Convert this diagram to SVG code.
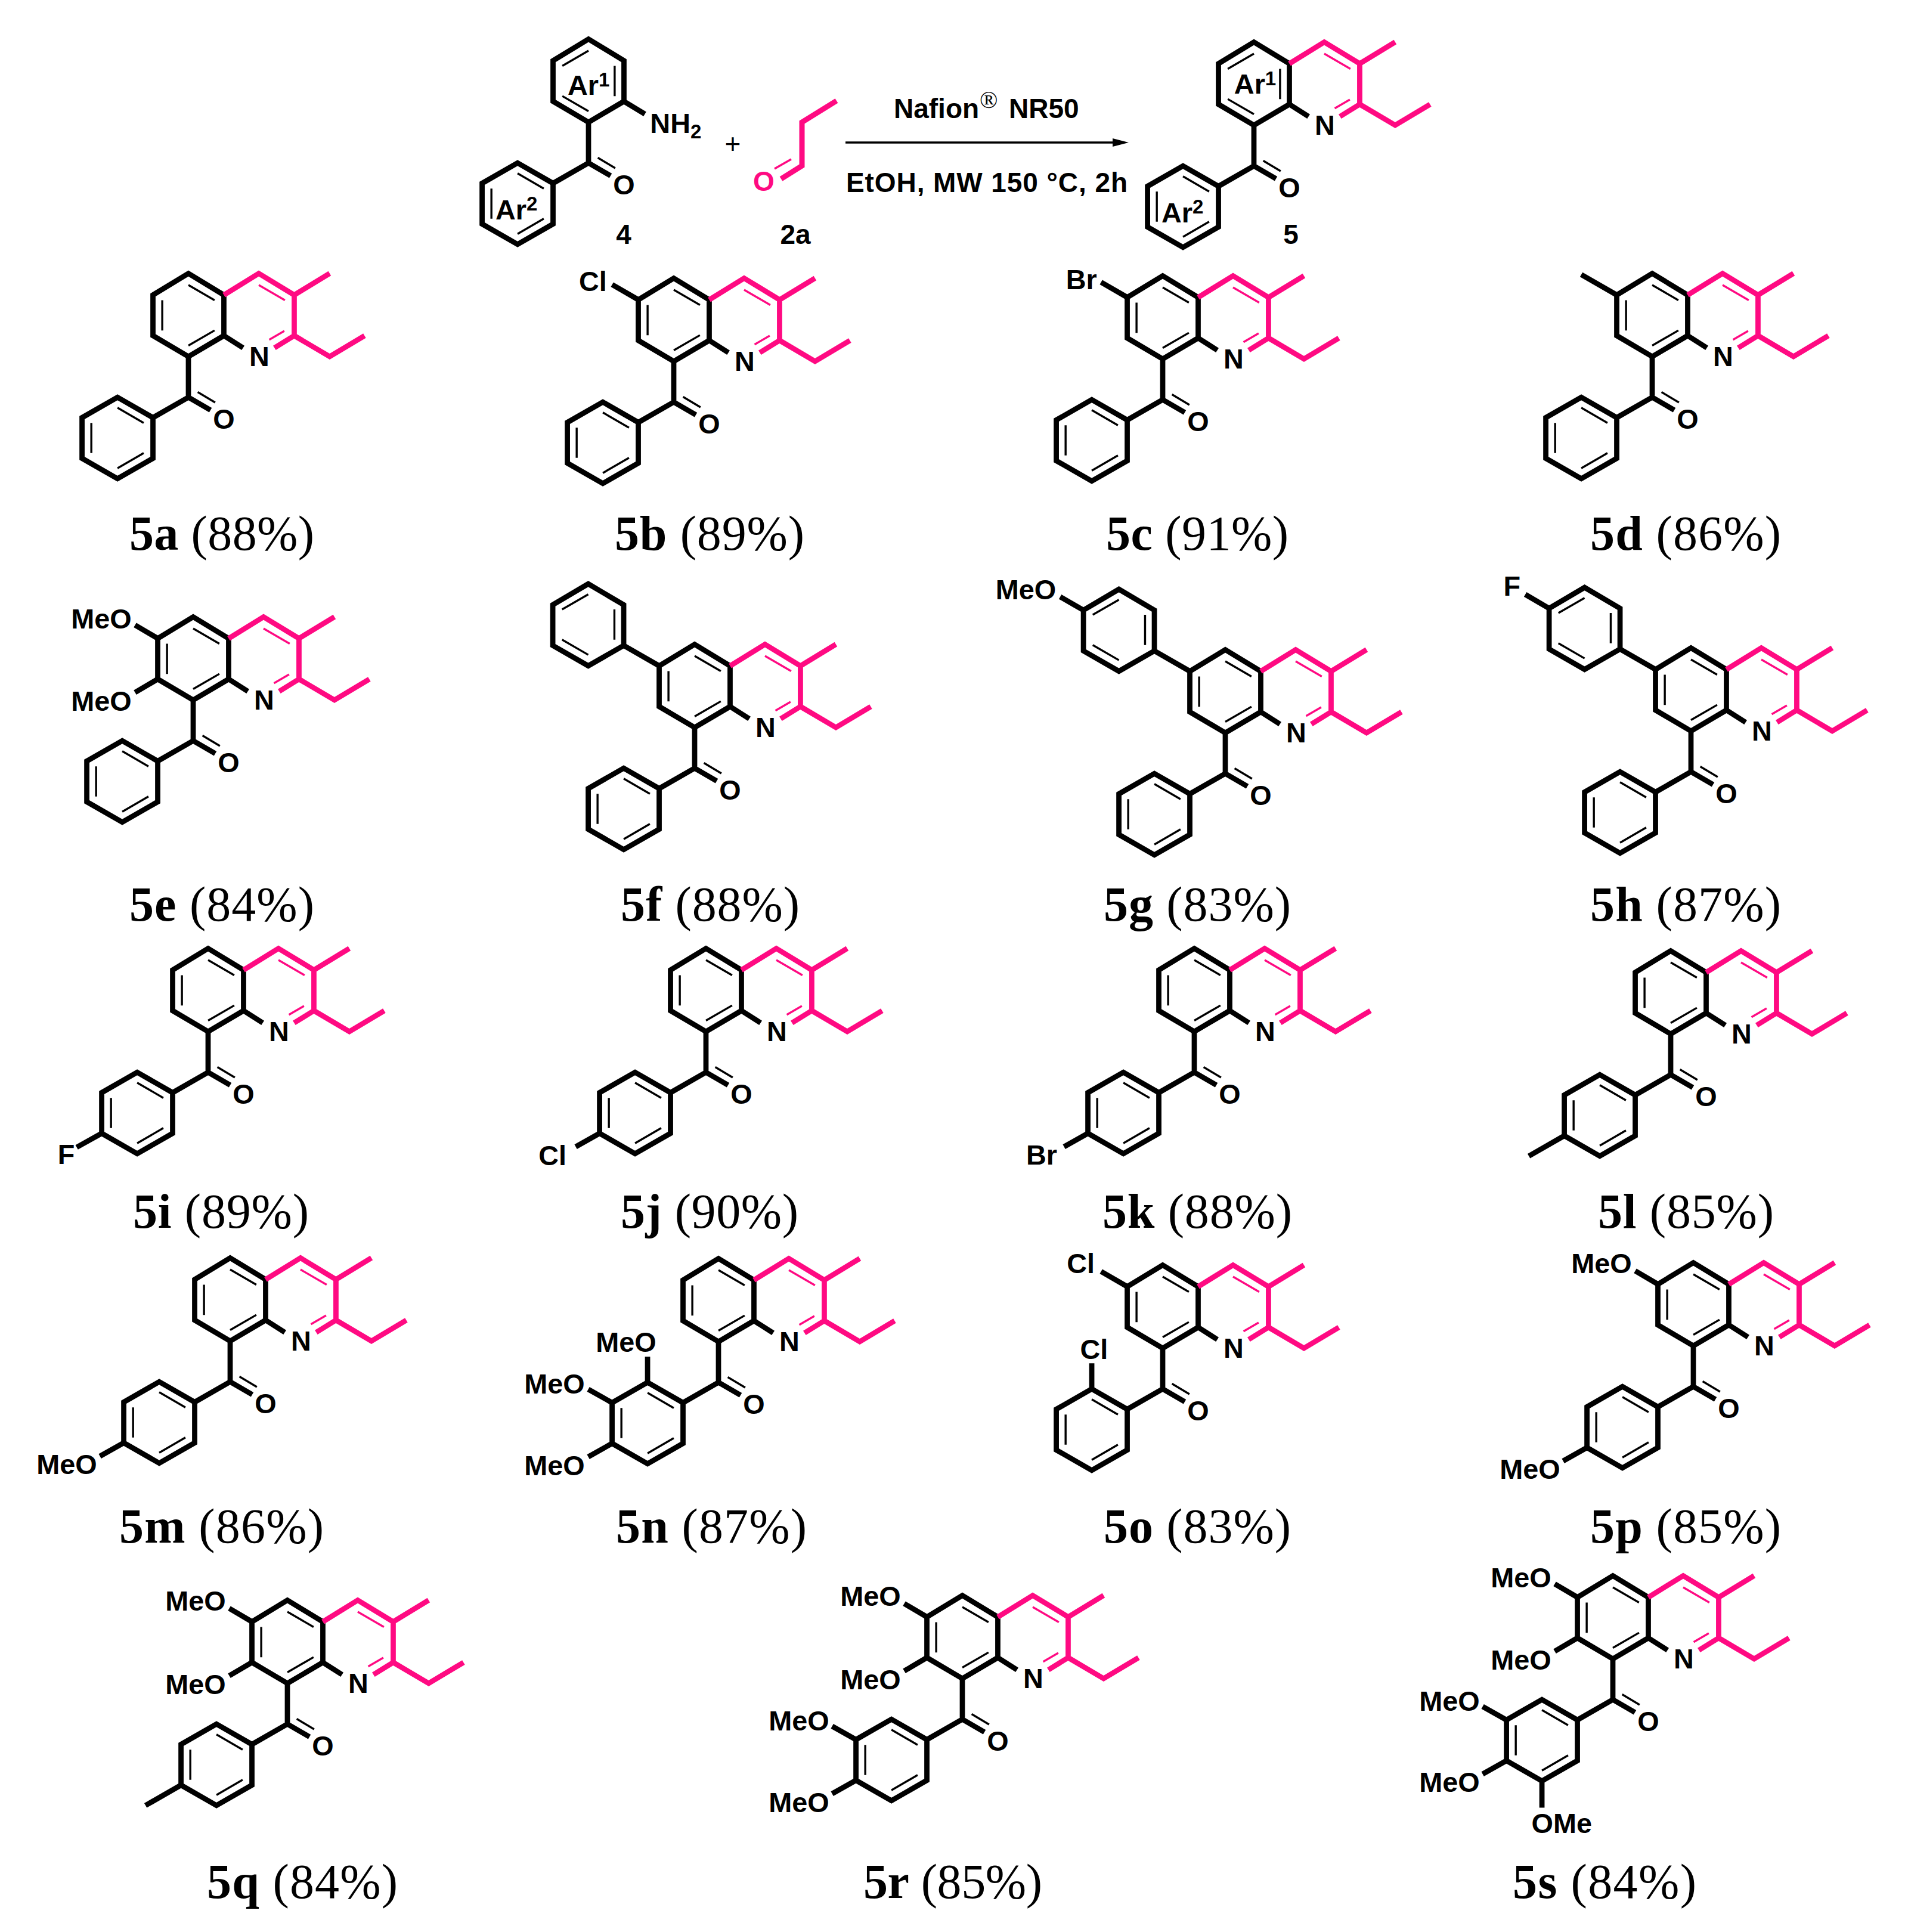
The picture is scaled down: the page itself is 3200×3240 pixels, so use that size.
<svg xmlns="http://www.w3.org/2000/svg" width="3200" height="3240" viewBox="0 0 3200 3240">
<style>
.b{fill:none;stroke:#000;stroke-width:9;stroke-linejoin:miter;stroke-miterlimit:6}
.p{fill:none;stroke:#ff0a82;stroke-width:9;stroke-linejoin:miter;stroke-miterlimit:6}
.t{fill:none;stroke:#000;stroke-width:3.5}
.u{fill:none;stroke:#ff0a82;stroke-width:3.5}
text{font-family:"Liberation Sans",Arial,sans-serif;font-weight:bold;font-size:46px;fill:#000}
.n text{font-size:48px}
.m{text-anchor:middle}
.e{text-anchor:end}
.n text tspan.s,.s{font-size:34px}
.c{font-family:"Liberation Serif","Times New Roman",serif;font-weight:normal;font-size:82px}
.c tspan{font-weight:bold}
</style>
<defs>
<polygon id="benzo" class="b" points="0,0 61,-36 61,-106 0,-143 -61,-106 -61,-36"/>
<path id="bi" class="t" d="M0,-123L45,-97M-45,-97V-45M0,-19L45,-45"/>
<path id="bm" class="t" d="M0,-123L-45,-97M45,-97V-45M0,-19L-45,-45"/>
<g id="py">
<path class="b" d="M61,-36L94,-15"/>
<path class="p" d="M61,-106L121,-143L182,-106V-36L148,-15M182,-106L243,-143M182,-36L243,0L303,-36"/>
<path class="u" d="M121,-123L166,-97M139,-29L165,-44"/>
</g>
<g id="ket">
<path class="b" d="M38,92L0,70V0M0,70L-61,105"/>
<path class="t" d="M16,61L46,79"/>
<polygon class="b" points="-61,105 -122,70 -183,105 -183,175 -122,210 -61,175"/>
</g>
<path id="ai" class="t" d="M-122,88L-77,114M-167,114V166M-122,192L-77,166"/>
<g id="mol"><use href="#benzo"/><use href="#bi"/><use href="#py"/><use href="#ket"/><use href="#ai"/></g>
<g id="bar">
<path class="b" d="M-61,-106L-122,-141"/>
<polygon class="b" points="-122,-141 -183,-106 -244,-141 -244,-211 -183,-247 -122,-211"/>
</g>
<path id="barm" class="t" d="M-183,-229L-228,-203M-138,-203V-151M-183,-125L-228,-151"/>
</defs>

<g id="reaction">
<g id="m4" class="n" transform="translate(987,205) scale(.975)">
<use href="#benzo"/><use href="#bm"/><use href="#ket"/><use href="#ai"/>
<path class="b" d="M61,-36L97,-14"/>
<text x="106" y="18">NH<tspan class="s" dy="10">2</tspan></text>
<text class="m" x="61" y="124">O</text>
<text x="-36" y="-47">Ar<tspan class="s" dy="-15">1</tspan></text>
<text x="-160" y="167">Ar<tspan class="s" dy="-15">2</tspan></text>
</g>
<text id="plus" class="m" x="1229" y="257" style="font-weight:normal">+</text>
<g id="m2a" transform="translate(-4,0)">
<path class="p" d="M1407,169L1349,205V278L1314,300"/>
<path class="u" d="M1303,283L1331,267"/>
<text class="m" x="1285" y="320" style="fill:#ff0a82">O</text>
</g>
<g id="arrow">
<path d="M1418,239H1870" stroke="#000" stroke-width="3.5" fill="none"/>
<polygon points="1893,239 1866,232 1866,246" fill="#000"/>
</g>
<text x="1499" y="198">Nafion</text>
<text x="1643" y="181" style="font-family:'Liberation Serif',serif;font-weight:normal;font-size:40px">®</text>
<text x="1692" y="198">NR50</text>
<text x="1419" y="322" textLength="472">EtOH, MW 150 °C, 2h</text>
<g id="m5" class="n" transform="translate(2103,210) scale(.975)">
<use href="#benzo"/><use href="#bm"/><use href="#py"/><use href="#ket"/><use href="#ai"/>
<text class="m" x="122" y="16">N</text><text class="m" x="61" y="124">O</text>
<text x="-34" y="-54">Ar<tspan class="s" dy="-15">1</tspan></text>
<text x="-159" y="167">Ar<tspan class="s" dy="-15">2</tspan></text>
</g>
<text class="m" x="1046" y="409">4</text>
<text class="m" x="1334" y="409">2a</text>
<text class="m" x="2165" y="409">5</text>
</g>

<g id="n5a" class="n" transform="translate(316,598) scale(.975)"><use href="#mol"/><text class="m" x="122" y="16">N</text><text class="m" x="61" y="124">O</text></g>
<g id="n5b" class="n" transform="translate(1130,606) scale(.975)"><use href="#mol"/><text class="m" x="122" y="16">N</text><text class="m" x="61" y="124">O</text><path class="b" d="M-61,-106L-106,-132"/><text class="e" x="-115" y="-121">Cl</text></g>
<g id="n5c" class="n" transform="translate(1950,602) scale(.975)"><use href="#mol"/><text class="m" x="122" y="16">N</text><text class="m" x="61" y="124">O</text><path class="b" d="M-61,-106L-106,-132"/><text class="e" x="-113" y="-120">Br</text></g>
<g id="n5d" class="n" transform="translate(2771,598) scale(.975)"><use href="#mol"/><text class="m" x="122" y="16">N</text><text class="m" x="61" y="124">O</text><path class="b" d="M-61,-106L-122,-141"/></g>

<g id="n5e" class="n" transform="translate(324,1174) scale(.975)"><use href="#mol"/><text class="m" x="122" y="16">N</text><text class="m" x="61" y="124">O</text><path class="b" d="M-61,-106L-100,-129M-61,-36L-100,-13"/><text class="e" x="-106" y="-123">MeO</text><text class="e" x="-106" y="18">MeO</text></g>
<g id="n5f" class="n" transform="translate(1165,1220) scale(.975)"><use href="#mol"/><text class="m" x="122" y="16">N</text><text class="m" x="61" y="124">O</text><use href="#bar"/><use href="#barm"/></g>
<g id="n5g" class="n" transform="translate(2055,1229) scale(.975)"><use href="#mol"/><text class="m" x="122" y="16">N</text><text class="m" x="61" y="124">O</text><use href="#bar"/><use href="#barm"/><path class="b" d="M-244,-211L-284,-234"/><text class="e" x="-291" y="-230">MeO</text></g>
<g id="n5h" class="n" transform="translate(2836,1226) scale(.975)"><use href="#mol"/><text class="m" x="122" y="16">N</text><text class="m" x="61" y="124">O</text><use href="#bar"/><use href="#barm"/><path class="b" d="M-244,-211L-285,-235"/><text class="m" x="-308" y="-233">F</text></g>

<g id="n5i" class="n" transform="translate(349,1730) scale(.975)"><use href="#mol"/><text class="m" x="122" y="16">N</text><text class="m" x="61" y="124">O</text><path class="b" d="M-183,175L-226,199"/><text class="m" x="-244" y="228">F</text></g>
<g id="n5j" class="n" transform="translate(1184,1730) scale(.975)"><use href="#mol"/><text class="m" x="122" y="16">N</text><text class="m" x="61" y="124">O</text><path class="b" d="M-183,175L-224,198"/><text class="e" x="-240" y="230">Cl</text></g>
<g id="n5k" class="n" transform="translate(2003,1730) scale(.975)"><use href="#mol"/><text class="m" x="122" y="16">N</text><text class="m" x="61" y="124">O</text><path class="b" d="M-183,175L-224,198"/><text class="e" x="-236" y="229">Br</text></g>
<g id="n5l" class="n" transform="translate(2802,1734) scale(.975)"><use href="#mol"/><text class="m" x="122" y="16">N</text><text class="m" x="61" y="124">O</text><path class="b" d="M-183,175L-244,210"/></g>

<g id="n5m" class="n" transform="translate(386,2249) scale(.975)"><use href="#mol"/><text class="m" x="122" y="16">N</text><text class="m" x="61" y="124">O</text><path class="b" d="M-183,175L-224,198"/><text class="e" x="-229" y="229">MeO</text></g>
<g id="n5n" class="n" transform="translate(1205,2250) scale(.975)"><use href="#mol"/><text class="m" x="122" y="16">N</text><text class="m" x="61" y="124">O</text><path class="b" d="M-122,70V26M-183,105L-224,82M-183,175L-224,198"/><text class="e" x="-107" y="17">MeO</text><text class="e" x="-230" y="89">MeO</text><text class="e" x="-230" y="230">MeO</text></g>
<g id="n5o" class="n" transform="translate(1950,2261) scale(.975)"><use href="#mol"/><text class="m" x="122" y="16">N</text><text class="m" x="61" y="124">O</text><path class="b" d="M-61,-106L-106,-132M-122,70V26"/><text class="e" x="-117" y="-129">Cl</text><text class="m" x="-118" y="18">Cl</text></g>
<g id="n5p" class="n" transform="translate(2840,2257) scale(.975)"><use href="#mol"/><text class="m" x="122" y="16">N</text><text class="m" x="61" y="124">O</text><path class="b" d="M-61,-106L-100,-129M-183,175L-224,198"/><text class="e" x="-106" y="-125">MeO</text><text class="e" x="-229" y="229">MeO</text></g>

<g id="n5q" class="n" transform="translate(482,2823) scale(.975)"><use href="#mol"/><text class="m" x="122" y="16">N</text><text class="m" x="61" y="124">O</text><path class="b" d="M-61,-106L-100,-129M-61,-36L-100,-13M-183,175L-244,210"/><text class="e" x="-106" y="-125">MeO</text><text class="e" x="-106" y="18">MeO</text></g>
<g id="n5r" class="n" transform="translate(1614,2815) scale(.975)"><use href="#mol"/><text class="m" x="122" y="16">N</text><text class="m" x="61" y="124">O</text><path class="b" d="M-61,-106L-100,-129M-61,-36L-100,-13M-183,105L-224,82M-183,175L-224,198"/><text class="e" x="-106" y="-125">MeO</text><text class="e" x="-106" y="18">MeO</text><text class="e" x="-229" y="89">MeO</text><text class="e" x="-229" y="230">MeO</text></g>
<g id="n5s" class="n" transform="translate(2705,2782) scale(.975)"><use href="#mol"/><text class="m" x="122" y="16">N</text><text class="m" x="61" y="124">O</text><path class="b" d="M-61,-106L-100,-129M-61,-36L-100,-13M-183,105L-224,82M-183,175L-224,198M-122,210V256"/><text class="e" x="-106" y="-123">MeO</text><text class="e" x="-106" y="18">MeO</text><text class="e" x="-229" y="89">MeO</text><text class="e" x="-229" y="229">MeO</text><text x="-140" y="300">OMe</text></g>

<g id="labels">
<text class="c" x="217" y="922" textLength="310"><tspan>5a</tspan> (88%)</text>
<text class="c" x="1031" y="922" textLength="318"><tspan>5b</tspan> (89%)</text>
<text class="c" x="1855" y="922" textLength="306"><tspan>5c</tspan> (91%)</text>
<text class="c" x="2667" y="922" textLength="320"><tspan>5d</tspan> (86%)</text>
<text class="c" x="217" y="1544" textLength="310"><tspan>5e</tspan> (84%)</text>
<text class="c" x="1041" y="1544" textLength="300"><tspan>5f</tspan> (88%)</text>
<text class="c" x="1851" y="1544" textLength="314"><tspan>5g</tspan> (83%)</text>
<text class="c" x="2667" y="1544" textLength="320"><tspan>5h</tspan> (87%)</text>
<text class="c" x="223" y="2059" textLength="295"><tspan>5i</tspan> (89%)</text>
<text class="c" x="1041" y="2059" textLength="298"><tspan>5j</tspan> (90%)</text>
<text class="c" x="1849" y="2059" textLength="318"><tspan>5k</tspan> (88%)</text>
<text class="c" x="2680" y="2059" textLength="295"><tspan>5l</tspan> (85%)</text>
<text class="c" x="200" y="2587" textLength="343"><tspan>5m</tspan> (86%)</text>
<text class="c" x="1033" y="2587" textLength="320"><tspan>5n</tspan> (87%)</text>
<text class="c" x="1851" y="2587" textLength="314"><tspan>5o</tspan> (83%)</text>
<text class="c" x="2667" y="2587" textLength="320"><tspan>5p</tspan> (85%)</text>
<text class="c" x="347" y="3183" textLength="320"><tspan>5q</tspan> (84%)</text>
<text class="c" x="1448" y="3183" textLength="300"><tspan>5r</tspan> (85%)</text>
<text class="c" x="2537" y="3183" textLength="308"><tspan>5s</tspan> (84%)</text>
</g>
</svg>
